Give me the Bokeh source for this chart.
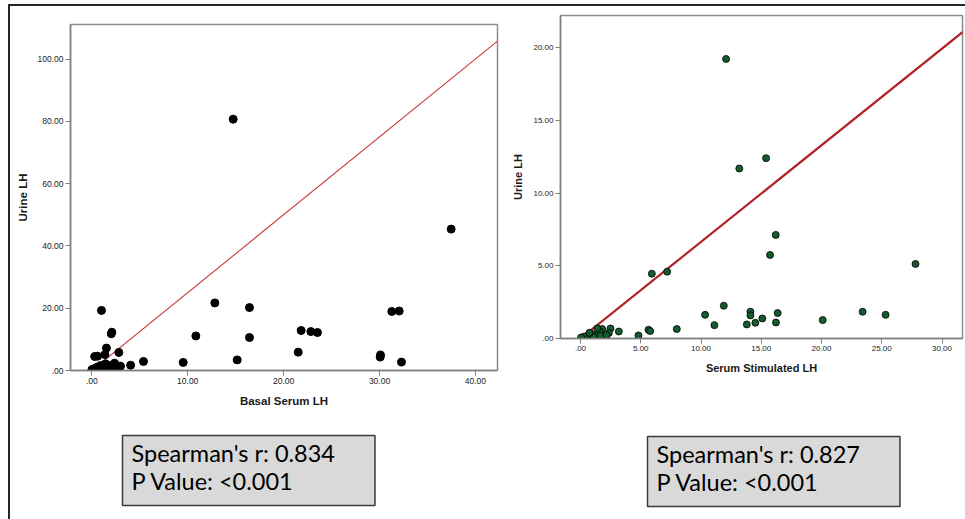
from bokeh.plotting import figure
from bokeh.models import Range1d, FixedTicker, Label
from bokeh.layouts import row
from bokeh.embed import file_html
from bokeh.resources import INLINE

# ---------------- data ----------------
basal_serum_lh = [14.74, 37.47, 12.83, 16.44, 1.01, 31.28, 32.05, 2.09, 2.03, 10.85,
                  16.44, 21.83, 22.84, 23.53, 21.52, 30.10, 30.07, 32.29, 15.16, 9.53,
                  5.39, 4.05, 2.82, 1.53, 1.37, 0.30, 0.60, 2.37, 2.85, 2.71,
                  1.95, 1.43, 0.91, 0.56, 0.21, 0.02, 1.60, 2.12, 1.07, 2.99, 0.40]
urine_lh_basal = [80.7, 45.4, 21.7, 20.2, 19.3, 18.95, 19.1, 12.3, 11.8, 11.1,
                  10.6, 12.85, 12.5, 12.2, 5.9, 5.0, 4.3, 2.7, 3.4, 2.6,
                  2.9, 1.7, 5.8, 7.2, 5.1, 4.5, 4.6, 2.36, 1.3, 1.1,
                  1.6, 2.14, 1.6, 1.07, 0.53, 0.3, 0.86, 0.75, 0.2, 1.39, 0.6]

stim_serum_lh = [12.08, 15.40, 13.18, 16.20, 15.73, 27.80, 5.92, 7.19, 11.89, 10.34,
                 14.10, 14.10, 16.36, 15.09, 14.51, 13.80, 16.22, 11.11, 20.10, 23.41,
                 25.32, 7.99, 5.64, 5.78, 4.81, 3.18, 2.49, 2.35, 1.80, 1.60,
                 1.33, 1.66, 2.16, 0.97, 0.55, 0.28, 0.05, 1.10, 0.75, 1.40]
urine_lh_stim = [19.24, 12.41, 11.70, 7.13, 5.75, 5.13, 4.46, 4.60, 2.26, 1.63,
                 1.84, 1.59, 1.75, 1.38, 1.08, 0.97, 1.10, 0.92, 1.27, 1.84,
                 1.63, 0.65, 0.60, 0.51, 0.21, 0.48, 0.69, 0.37, 0.65, 0.48,
                 0.23, 0.19, 0.23, 0.30, 0.19, 0.12, 0.07, 0.10, 0.40, 0.70]

left_xticks = [0, 10, 20, 30, 40]
left_xtick_labels = [".00", "10.00", "20.00", "30.00", "40.00"]
left_yticks = [0, 20, 40, 60, 80, 100]
left_ytick_labels = [".00", "20.00", "40.00", "60.00", "80.00", "100.00"]

right_xticks = [0, 5, 10, 15, 20, 25, 30]
right_xtick_labels = [".00", "5.00", "10.00", "15.00", "20.00", "25.00", "30.00"]
right_yticks = [0, 5, 10, 15, 20]
right_ytick_labels = [".00", "5.00", "10.00", "15.00", "20.00"]

left_fit_intercept, left_fit_slope = 0.0, 2.5
right_fit_intercept, right_fit_slope = 0.0, 0.665

left_stats = "Spearman's r: 0.834\nP Value: <0.001"
right_stats = "Spearman's r: 0.827\nP Value: <0.001"

AXIS_COL = "#7f7f7f"
FONT = "Liberation Sans"


def make_chart(width, height, borders, xr, yr, xticks, xlabels, yticks, ylabels,
               xtitle, ytitle, tick_size, title_size, title_standoff_x, title_standoff_y):
    p = figure(width=width, height=height, output_backend="svg", toolbar_location=None,
               x_range=Range1d(*xr), y_range=Range1d(*yr),
               min_border_left=borders[0], min_border_right=borders[1],
               min_border_top=borders[2], min_border_bottom=borders[3])
    try:
        p.frame_align = False
    except Exception:
        pass
    p.grid.visible = False
    p.background_fill_color = "white"
    p.border_fill_color = None
    p.outline_line_color = "#8c8c8c"
    p.outline_line_width = 1.5
    for ax, ticks, labels, title, standoff in (
            (p.xaxis[0], xticks, xlabels, xtitle, title_standoff_x),
            (p.yaxis[0], yticks, ylabels, ytitle, title_standoff_y)):
        ax.ticker = FixedTicker(ticks=ticks)
        ax.major_label_overrides = {t: l for t, l in zip(ticks, labels)}
        ax.axis_line_color = AXIS_COL
        ax.axis_line_width = 1.5
        ax.major_tick_line_color = AXIS_COL
        ax.major_tick_line_width = 1
        ax.major_tick_in = 0
        ax.major_tick_out = 5
        ax.minor_tick_line_color = None
        ax.major_label_text_font = FONT
        ax.major_label_text_font_size = tick_size
        ax.major_label_text_color = "#222222"
        ax.major_label_standoff = 2
        ax.axis_label = title
        ax.axis_label_text_font = FONT
        ax.axis_label_text_font_style = "bold"
        ax.axis_label_text_font_size = title_size
        ax.axis_label_text_color = "#1a1a1a"
        ax.axis_label_standoff = standoff
    return p


def stats_label(text, x, y):
    return Label(x=x, y=y, x_units="screen", y_units="screen", text=text,
                 text_align="left", text_baseline="top", text_font="Lato",
                 text_font_size="23.5px", text_line_height=1.0, text_color="black",
                 background_fill_color="#d9d9d9", border_line_color="#3c3c3c",
                 border_line_width=1.5, padding=(9, 40, 3, 11))


# ---------- left chart ----------
left = make_chart(495, 513, (60, 8, 18, 149), (-2.22, 42.3), (0, 111.1),
                  left_xticks, left_xtick_labels, left_yticks, left_ytick_labels,
                  "Basal Serum LH", "Urine LH", "8.5px", "11.5px", 8, 6)
lx = [left.x_range.start, left.x_range.end]
left.line(lx, [left_fit_intercept + left_fit_slope * v for v in lx],
          line_color="#c8383a", line_width=1.1)
left.scatter(basal_serum_lh, urine_lh_basal, size=8, fill_color="black",
             line_color="black")
left.add_layout(stats_label(left_stats, 52, 44), "below")

# ---------- right chart ----------
right = make_chart(460, 513, (55, 3, 9, 181), (-1.66, 31.7), (0, 22.23),
                   right_xticks, right_xtick_labels, right_yticks, right_ytick_labels,
                   "Serum Stimulated LH", "Urine LH", "8px", "11px", 8, 6)
rx = [right.x_range.start, right.x_range.end]
right.line(rx, [right_fit_intercept + right_fit_slope * v for v in rx],
           line_color="#b3222a", line_width=2.2)
right.scatter(stim_serum_lh, urine_lh_stim, size=7, fill_color="#145c2d",
              line_color="black", line_width=0.8)
right.add_layout(stats_label(right_stats, 87, 10), "below")

layout = row(left, right, styles={"margin-top": "4px", "margin-left": "8px",
                                  "box-sizing": "border-box",
                                  "border-top": "2px solid #262626",
                                  "border-left": "2px solid #262626"})

open("out.html", "w").write(file_html(layout, INLINE))
